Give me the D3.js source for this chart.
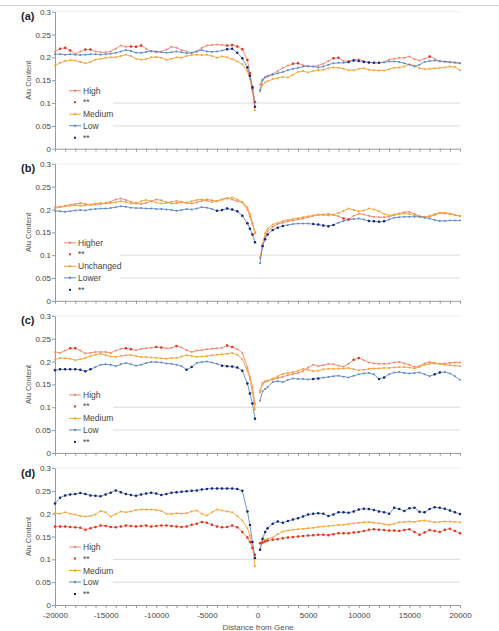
<!DOCTYPE html>
<html><head><meta charset="utf-8">
<script src="https://cdn.jsdelivr.net/npm/d3@7"></script>
<style>
body{margin:0;background:#fff}
svg{display:block}
text{font-family:"Liberation Sans",Arial,Helvetica,sans-serif}
</style>
</head><body>
<svg id="c" width="499" height="631"></svg>
<script>
// ---- positions (bp from gene) ----
const posLeft = [-20000,-19500,-19000,-18500,-18000,-17500,-17000,-16500,-16000,-15500,-15000,-14500,-14000,-13500,-13000,-12500,-12000,-11500,-11000,-10500,-10000,-9500,-9000,-8500,-8000,-7500,-7000,-6500,-6000,-5500,-5000,-4500,-4000,-3500,-3000,-2500,-2000,-1500,-1000,-750,-500,-250];
const posRight = [250,500,750,1000,1500,2000,2500,3000,3500,4000,4500,5000,5500,6000,6500,7000,7500,8000,8500,9000,9500,10000,10500,11000,11500,12000,12500,13000,13500,14000,14500,15000,15500,16000,16500,17000,17500,18000,18500,19000,19500,20000];

// ---- panel (a) ----
const aHighL = [.213,.219,.221,.215,.208,.213,.217,.217,.213,.211,.211,.213,.219,.226,.223,.224,.223,.226,.219,.213,.211,.213,.217,.223,.221,.216,.213,.210,.213,.221,.226,.227,.228,.227,.226,.227,.224,.218,.194,.165,.132,.102];
const aMedL  = [.182,.188,.192,.194,.193,.190,.187,.190,.195,.197,.199,.200,.200,.203,.206,.203,.197,.195,.196,.200,.201,.199,.195,.197,.200,.199,.203,.205,.206,.205,.206,.203,.199,.202,.200,.196,.191,.185,.170,.152,.125,.084];
const aLowL  = [.207,.207,.206,.207,.206,.205,.206,.207,.207,.206,.207,.208,.210,.213,.216,.214,.210,.210,.212,.214,.213,.211,.210,.211,.213,.211,.209,.210,.213,.216,.213,.212,.213,.215,.218,.219,.210,.198,.178,.160,.135,.092];
const aHighR = [.140,.152,.157,.160,.164,.170,.177,.182,.186,.187,.183,.180,.180,.182,.186,.192,.198,.199,.192,.192,.195,.196,.192,.189,.188,.188,.190,.195,.197,.199,.199,.202,.196,.193,.197,.202,.197,.191,.190,.189,.188,.187];
const aMedR  = [.125,.140,.145,.148,.152,.155,.157,.156,.162,.168,.170,.167,.170,.172,.173,.176,.178,.177,.175,.172,.172,.175,.176,.173,.172,.171,.171,.174,.177,.178,.180,.185,.182,.176,.174,.175,.176,.177,.178,.180,.179,.172];
const aLowR  = [.128,.150,.156,.158,.162,.165,.168,.172,.175,.177,.180,.181,.180,.178,.180,.184,.187,.188,.188,.190,.193,.192,.190,.189,.188,.188,.189,.191,.191,.190,.187,.184,.180,.184,.190,.192,.193,.192,.191,.190,.189,.187];
const aHighSig = [[-19500,-18500],[-17000,-16500],[-12500,-11500],[-3000,-250],[3500,4000],[7500,8000],[17000,17000]];
const aLowSig  = [[-3000,-250],[9000,12000]];

// ---- panel (b) ----
const bHighL = [.205,.206,.208,.210,.212,.214,.212,.210,.211,.212,.214,.217,.222,.224,.221,.217,.213,.212,.214,.218,.222,.220,.216,.213,.214,.216,.214,.213,.215,.219,.222,.220,.218,.222,.225,.222,.218,.215,.200,.185,.168,.148];
const bUncL  = [.203,.205,.207,.208,.209,.208,.209,.211,.213,.214,.213,.214,.216,.218,.216,.213,.214,.218,.221,.218,.215,.213,.214,.217,.219,.217,.215,.218,.221,.222,.219,.216,.219,.222,.224,.226,.222,.216,.205,.190,.170,.150];
const bLowL  = [.197,.196,.195,.196,.198,.199,.198,.200,.201,.202,.202,.203,.205,.207,.206,.204,.203,.203,.202,.202,.201,.201,.200,.199,.197,.199,.201,.200,.202,.205,.204,.201,.197,.199,.202,.200,.196,.186,.170,.158,.145,.128];
const bHighR = [.095,.118,.140,.152,.162,.168,.171,.174,.176,.178,.180,.183,.186,.188,.189,.190,.188,.185,.180,.178,.186,.191,.189,.186,.184,.183,.183,.184,.188,.191,.194,.195,.190,.185,.184,.184,.188,.192,.191,.190,.188,.186];
const bUncR  = [.093,.125,.148,.158,.167,.171,.174,.177,.179,.181,.183,.185,.187,.189,.188,.187,.189,.192,.197,.202,.199,.196,.198,.202,.200,.196,.190,.187,.189,.190,.191,.190,.187,.185,.184,.186,.190,.193,.193,.191,.188,.185];
const bLowR  = [.082,.120,.135,.145,.155,.160,.164,.166,.168,.169,.169,.169,.168,.167,.165,.163,.166,.171,.175,.178,.179,.180,.178,.175,.174,.173,.174,.178,.182,.183,.184,.184,.184,.184,.182,.180,.177,.175,.175,.176,.176,.176];
const bHighSig = [[8500,9000]];
const bLowSig  = [[-4000,-250],[500,2500],[5500,7500],[11000,12500]];

// ---- panel (c) ----
const cHighL = [.221,.219,.224,.229,.229,.224,.218,.219,.221,.221,.221,.219,.224,.228,.229,.227,.225,.228,.229,.230,.232,.231,.229,.230,.234,.231,.225,.221,.224,.225,.227,.228,.229,.230,.235,.232,.227,.219,.187,.166,.144,.107];
const cMedL  = [.204,.208,.207,.206,.203,.205,.208,.212,.215,.217,.214,.211,.210,.212,.214,.214,.212,.210,.210,.209,.208,.207,.206,.208,.208,.211,.214,.212,.210,.211,.212,.214,.215,.216,.217,.219,.215,.205,.180,.162,.132,.095];
const cLowL  = [.181,.183,.183,.183,.183,.182,.179,.183,.188,.193,.194,.193,.190,.194,.197,.194,.191,.193,.197,.199,.199,.198,.196,.195,.193,.190,.182,.188,.197,.199,.200,.198,.195,.191,.190,.189,.187,.180,.152,.130,.108,.075];
const cHighR = [.133,.153,.157,.158,.161,.164,.167,.170,.173,.175,.179,.187,.193,.190,.192,.195,.194,.191,.189,.195,.204,.208,.203,.198,.196,.195,.195,.196,.198,.199,.196,.193,.188,.190,.196,.199,.197,.195,.196,.197,.198,.198];
const cMedR  = [.137,.150,.155,.158,.163,.168,.173,.175,.177,.180,.184,.182,.179,.180,.183,.184,.184,.184,.185,.186,.183,.181,.182,.184,.185,.185,.186,.186,.187,.188,.188,.187,.185,.188,.193,.195,.196,.195,.193,.192,.191,.190];
const cLowR  = [.114,.135,.140,.144,.155,.157,.155,.160,.163,.162,.162,.161,.162,.163,.165,.166,.168,.169,.167,.165,.169,.172,.174,.175,.172,.162,.165,.172,.176,.177,.175,.174,.175,.176,.172,.168,.172,.176,.177,.174,.168,.160];
const cHighSig = [[-18500,-18000],[-13000,-12500],[-10000,-9500],[-8000,-8000],[-3000,-2500],[9500,10000]];
const cLowSig  = [[-20000,-16500],[-7000,-6500],[-3500,-250],[5500,6000],[12000,12500],[17500,18000]];

// ---- panel (d) ----
const dHighL = [.172,.172,.172,.171,.170,.169,.165,.168,.171,.174,.173,.171,.170,.172,.174,.173,.172,.173,.174,.172,.173,.174,.174,.173,.172,.171,.172,.176,.178,.182,.180,.176,.172,.170,.171,.174,.170,.160,.148,.138,.125,.110];
const dMedL  = [.201,.200,.203,.200,.198,.195,.194,.195,.198,.206,.203,.194,.199,.205,.203,.205,.208,.209,.209,.209,.208,.206,.200,.199,.201,.200,.201,.205,.207,.200,.196,.203,.209,.207,.205,.203,.195,.185,.168,.152,.130,.085];
const dLowL  = [.222,.235,.240,.242,.243,.245,.243,.240,.239,.238,.242,.246,.251,.247,.243,.241,.239,.242,.244,.246,.244,.241,.243,.246,.247,.248,.249,.250,.251,.253,.254,.255,.255,.255,.255,.255,.254,.250,.205,.175,.138,.103];
const dHighR = [.135,.137,.139,.141,.143,.144,.146,.148,.149,.150,.151,.152,.153,.154,.154,.153,.155,.157,.157,.157,.159,.160,.162,.165,.166,.165,.164,.163,.163,.162,.164,.166,.160,.154,.159,.164,.162,.160,.165,.167,.162,.157];
const dMedR  = [.121,.140,.143,.145,.148,.155,.161,.163,.165,.166,.167,.168,.169,.171,.172,.173,.174,.175,.176,.177,.179,.180,.181,.182,.180,.179,.177,.175,.178,.181,.182,.183,.182,.184,.185,.183,.181,.182,.183,.183,.182,.181];
const dLowR  = [.121,.145,.160,.168,.178,.183,.180,.184,.187,.190,.194,.198,.200,.201,.200,.195,.198,.203,.203,.202,.205,.209,.211,.210,.208,.205,.203,.200,.213,.210,.206,.212,.213,.204,.203,.210,.214,.213,.211,.207,.203,.199];
const dHighSig = [[-20000,20000]];
const dLowSig  = [[-20000,20000]];

// ---- labels / ticks ----
const panelLabels = ["(a)","(b)","(c)","(d)"];
const legendA = ["High","**","Medium","Low","**"];
const legendB = ["Higher","**","Unchanged","Lower","**"];
const yTicks = [0,0.05,0.1,0.15,0.2,0.25,0.3];
const yTickLabels = ["0","0.05","0.1","0.15","0.2","0.25","0.3"];
const xTickLabels = [-20000,-15000,-10000,-5000,0,5000,10000,15000,20000];
const yAxisTitle = "Alu Content";
const xAxisTitle = "Distance from Gene";

// ---- styles ----
const colHigh="#f2866a", colHighSig="#e5311e", colMed="#f6a234", colLow="#5d89c9", colLowSig="#1c2575";

const panels = [
  {label:panelLabels[0], legend:legendA, L:[aHighL,aMedL,aLowL], R:[aHighR,aMedR,aLowR], sig:[aHighSig,aLowSig], lx:83, boxR:113},
  {label:panelLabels[1], legend:legendB, L:[bHighL,bUncL,bLowL], R:[bHighR,bUncR,bLowR], sig:[bHighSig,bLowSig], lx:78, boxR:120},
  {label:panelLabels[2], legend:legendA, L:[cHighL,cMedL,cLowL], R:[cHighR,cMedR,cLowR], sig:[cHighSig,cLowSig], lx:83, boxR:113},
  {label:panelLabels[3], legend:legendA, L:[dHighL,dMedL,dLowL], R:[dHighR,dMedR,dLowR], sig:[dHighSig,dLowSig], lx:83, boxR:113}
];

const svg = d3.select("#c");
svg.append("line").attr("x1",0).attr("x2",499).attr("y1",5.5).attr("y2",5.5)
  .attr("stroke","#cfcfcf").attr("stroke-width",1);

const x = d3.scaleLinear().domain([-20000,20000]).range([55,460]);
const xMinor = d3.range(-20000,20001,1000);
const inSig = (bp, ranges) => ranges.some(r => bp>=r[0] && bp<=r[1]);

panels.forEach((p,i)=>{
  const top = 11.7 + 152.1*i, bot = top + 137;
  const y = d3.scaleLinear().domain([0,0.3]).range([bot,top]);
  const g = svg.append("g");

  [0.05,0.1].forEach(v=>{
    g.append("line").attr("x1",55).attr("x2",460).attr("y1",y(v)).attr("y2",y(v))
      .attr("stroke","#dadada").attr("stroke-width",1);
  });
  g.append("line").attr("x1",55).attr("x2",460).attr("y1",y(0.3)).attr("y2",y(0.3))
    .attr("stroke","#efefef").attr("stroke-width",1);

  g.append("rect").attr("x",56).attr("y",top+71).attr("width",p.boxR-56).attr("height",61).attr("fill","#fff");

  const ya = g.append("g").attr("transform","translate(55,0)")
    .call(d3.axisLeft(y).tickValues(yTicks).tickSize(3).tickSizeOuter(0).tickFormat((d,k)=>yTickLabels[k]));
  ya.select(".domain").attr("stroke","#9a9a9a");
  ya.selectAll(".tick line").attr("stroke","#9a9a9a");
  ya.selectAll(".tick text").attr("font-size",8).attr("fill","#444").attr("x",-4)
    .attr("font-family","'Liberation Sans',Arial,sans-serif");

  const xa = g.append("g").attr("transform",`translate(0,${bot})`)
    .call(d3.axisBottom(x).tickValues(xMinor).tickSize(3).tickSizeOuter(0)
      .tickFormat(d => (i===3 && xTickLabels.includes(d)) ? String(d) : ""));
  xa.select(".domain").attr("stroke","#9a9a9a");
  xa.selectAll(".tick line").attr("stroke","#9a9a9a");
  xa.selectAll(".tick text").attr("font-size",8).attr("fill","#444").attr("y",7)
    .attr("font-family","'Liberation Sans',Arial,sans-serif");

  g.append("text").attr("transform",`translate(31,${(top+bot)/2}) rotate(-90)`)
    .attr("text-anchor","middle").attr("font-size",7.5).attr("fill","#555").text(yAxisTitle);

  g.append("text").attr("x",21).attr("y",top+8.5).attr("font-size",11).attr("font-weight","bold")
    .attr("fill","#222").text(p.label);

  const cols = [colHigh,colMed,colLow];
  const line = d3.line().x(d=>x(d[0])).y(d=>y(d[1]));
  [0,1,2].forEach(s=>{
    [[posLeft,p.L[s]],[posRight,p.R[s]]].forEach(([pos,vals])=>{
      const pts = pos.map((bp,k)=>[bp,vals[k]]);
      g.append("path").datum(pts).attr("d",line).attr("fill","none")
        .attr("stroke",cols[s]).attr("stroke-width",0.9);
      g.selectAll(null).data(pts).enter().append("circle")
        .attr("cx",d=>x(d[0])).attr("cy",d=>y(d[1])).attr("r",1.0).attr("fill",cols[s]);
    });
  });
  [[0,p.sig[0],colHighSig],[2,p.sig[1],colLowSig]].forEach(([s,ranges,c])=>{
    [[posLeft,p.L[s]],[posRight,p.R[s]]].forEach(([pos,vals])=>{
      const pts = pos.map((bp,k)=>[bp,vals[k]]).filter(d=>inSig(d[0],ranges));
      g.selectAll(null).data(pts).enter().append("circle")
        .attr("cx",d=>x(d[0])).attr("cy",d=>y(d[1])).attr("r",1.25).attr("fill",c);
    });
  });

  const rows = [79,90.5,102.5,114,126];
  const lcol = [colHigh,colHighSig,colMed,colLow,colLowSig];
  p.legend.forEach((t,k)=>{
    const cy = top + rows[k];
    if (k===1 || k===4) {
      g.append("rect").attr("x",p.lx-9).attr("y",cy-1).attr("width",2).attr("height",2).attr("fill",lcol[k]);
    } else {
      g.append("line").attr("x1",p.lx-14).attr("x2",p.lx-2).attr("y1",cy).attr("y2",cy)
        .attr("stroke",lcol[k]).attr("stroke-width",1);
      g.append("circle").attr("cx",p.lx-8).attr("cy",cy).attr("r",1.2).attr("fill",lcol[k]);
    }
    g.append("text").attr("x",p.lx).attr("y",cy+3).attr("font-size",8.5).attr("fill","#444").text(t);
  });
});

svg.append("text").attr("x",258).attr("y",629.5).attr("text-anchor","middle")
  .attr("font-size",8).attr("fill","#555").text(xAxisTitle);
</script>
</body></html>
